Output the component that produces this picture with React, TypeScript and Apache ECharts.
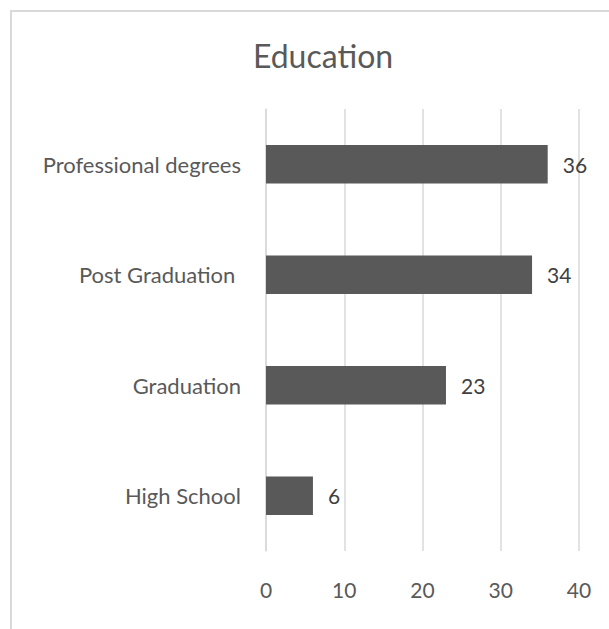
import React, { useEffect, useRef } from "react";
import * as echarts from "echarts";

const categories = ["High School", "Graduation", "Post Graduation ", "Professional degrees"];
const values = [6, 23, 34, 36];
const xTicks = { min: 0, max: 40, interval: 10 };
const titleText = "Education";

export default function App() {
  const ref = useRef<HTMLDivElement>(null);
  useEffect(() => {
    if (!ref.current) return;
    const chart = echarts.init(ref.current, undefined, { renderer: "svg" });
    const font = "Lato, 'Open Sans', sans-serif";
    chart.setOption({
      animation: false,
      backgroundColor: "#ffffff",
      title: {
        text: titleText,
        left: 318,
        top: 34,
        textAlign: "center",
        textStyle: { fontFamily: font, fontSize: 32, fontWeight: "normal", color: "#595959" },
      },
      graphic: [
        {
          type: "rect",
          shape: { x: 11, y: 11, width: 800, height: 800 },
          style: { fill: "none", stroke: "#d9d9d9", lineWidth: 2 },
          silent: true,
        },
      ],
      grid: { left: 266, right: 30, top: 109, bottom: 78 },
      xAxis: {
        type: "value",
        min: xTicks.min,
        max: xTicks.max,
        interval: xTicks.interval,
        axisLine: { show: false },
        axisTick: { show: false },
        splitLine: { lineStyle: { color: "#d9d9d9", width: 1.5 } },
        axisLabel: { color: "#595959", fontFamily: font, fontSize: 21, margin: 28 },
      },
      yAxis: {
        type: "category",
        data: categories,
        axisLine: { show: true, lineStyle: { color: "#d9d9d9", width: 1.5 } },
        axisTick: { show: false },
        axisLabel: { color: "#595959", fontFamily: font, fontSize: 22, margin: 25 },
      },
      series: [
        {
          type: "bar",
          data: values,
          barWidth: "35%",
          itemStyle: { color: "#595959" },
          label: {
            show: true,
            position: "right",
            distance: 15,
            color: "#404040",
            fontFamily: font,
            fontSize: 21,
          },
        },
      ],
    });
    return () => chart.dispose();
  }, []);
  return (
    <div
      ref={ref}
      style={{ position: "fixed", left: 0, top: 0, width: 609, height: 629 }}
    />
  );
}
